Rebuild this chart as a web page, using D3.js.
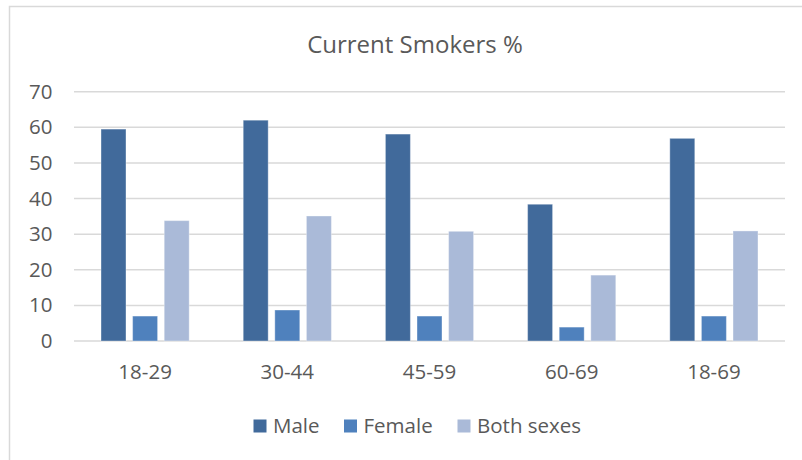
<!DOCTYPE html>
<html>
<head>
<meta charset="utf-8">
<script src="https://cdn.jsdelivr.net/npm/d3@7"></script>
<style>
  html, body { margin: 0; padding: 0; background: #fff; }
  svg { display: block; font-family: "Open Sans", "Liberation Sans", sans-serif; }
</style>
</head>
<body>
<svg id="chart" width="802" height="460"></svg>
<script>
// Age groups along the x axis
const categories = ["18-29", "30-44", "45-59", "60-69", "18-69"];
// Series names and their share of current smokers (%)
const seriesNames = ["Male", "Female", "Both sexes"];
const male = [59.5, 62.0, 58.1, 38.4, 56.9];
const female = [7.0, 8.7, 7.0, 3.9, 7.0];
const bothSexes = [33.8, 35.1, 30.8, 18.5, 30.9];
const yTicks = [0, 10, 20, 30, 40, 50, 60, 70];
const colors = ["#416A9B", "#4F81BD", "#AABAD8"];

const seriesValues = [male, female, bothSexes];
const rows = categories.map((c, i) => ({
  category: c,
  values: seriesNames.map((s, j) => ({ series: s, value: seriesValues[j][i], idx: j }))
}));

const svg = d3.select("#chart");
const textColor = "#595959";
const gridColor = "#D9D9D9";
const labelSize = "20.5px";

// Chart frame
svg.append("rect")
  .attr("x", 9.5).attr("y", 6.5)
  .attr("width", 820).attr("height", 470)
  .attr("fill", "none")
  .attr("stroke", gridColor)
  .attr("stroke-width", 1.5);

const plot = { left: 74, right: 785, top: 91.7, bottom: 341 };

const x = d3.scaleBand()
  .domain(categories)
  .range([plot.left, plot.right])
  .paddingInner(0.38)
  .paddingOuter(0.19);

const xs = d3.scaleBand()
  .domain(seriesNames)
  .range([0, x.bandwidth()])
  .paddingInner(0.21);

const y = d3.scaleLinear()
  .domain([0, 70])
  .range([plot.bottom, plot.top]);

const color = d3.scaleOrdinal().domain(seriesNames).range(colors);

// Title
svg.append("text")
  .attr("x", 415).attr("y", 53)
  .attr("text-anchor", "middle")
  .attr("fill", textColor)
  .style("font-size", "24px")
  .text("Current Smokers %");

// Horizontal gridlines
svg.append("g")
  .selectAll("line")
  .data(yTicks)
  .join("line")
  .attr("x1", plot.left).attr("x2", plot.right)
  .attr("y1", d => y(d)).attr("y2", d => y(d))
  .attr("stroke", gridColor)
  .attr("stroke-width", 1.5);

// Y axis labels
const yAxis = d3.axisLeft(y).tickValues(yTicks).tickSize(0).tickPadding(0);
svg.append("g")
  .attr("transform", `translate(${52.5},0)`)
  .call(yAxis)
  .call(g => g.select(".domain").remove())
  .call(g => g.selectAll("text")
    .attr("fill", textColor)
    .style("font-size", labelSize)
    .style("font-family", "'Open Sans', sans-serif"));

// Bars
const groups = svg.append("g")
  .selectAll("g")
  .data(rows)
  .join("g")
  .attr("transform", d => `translate(${x(d.category)},0)`);

groups.selectAll("rect")
  .data(d => d.values)
  .join("rect")
  .attr("x", d => xs(d.series))
  .attr("width", xs.bandwidth())
  .attr("y", d => y(d.value))
  .attr("height", d => y(0) - y(d.value))
  .attr("fill", d => color(d.series))
  .attr("stroke", "rgba(255,255,255,0.35)")
  .attr("stroke-width", 1);

// X axis labels
const xAxis = d3.axisBottom(x).tickSize(0).tickPadding(0);
svg.append("g")
  .attr("transform", `translate(0,${plot.bottom + 23})`)
  .call(xAxis)
  .call(g => g.select(".domain").remove())
  .call(g => g.selectAll("text")
    .attr("fill", textColor)
    .style("font-size", labelSize)
    .style("font-family", "'Open Sans', sans-serif"));

// Legend
const legendX = [253.5, 344, 457.5];
const legend = svg.append("g")
  .selectAll("g")
  .data(seriesNames)
  .join("g")
  .attr("transform", (d, i) => `translate(${legendX[i]},419.5)`);

legend.append("rect")
  .attr("width", 13).attr("height", 13)
  .attr("fill", d => color(d));

legend.append("text")
  .attr("x", 19.5).attr("y", 13.5)
  .attr("fill", textColor)
  .style("font-size", labelSize)
  .text(d => d);
</script>
</body>
</html>
